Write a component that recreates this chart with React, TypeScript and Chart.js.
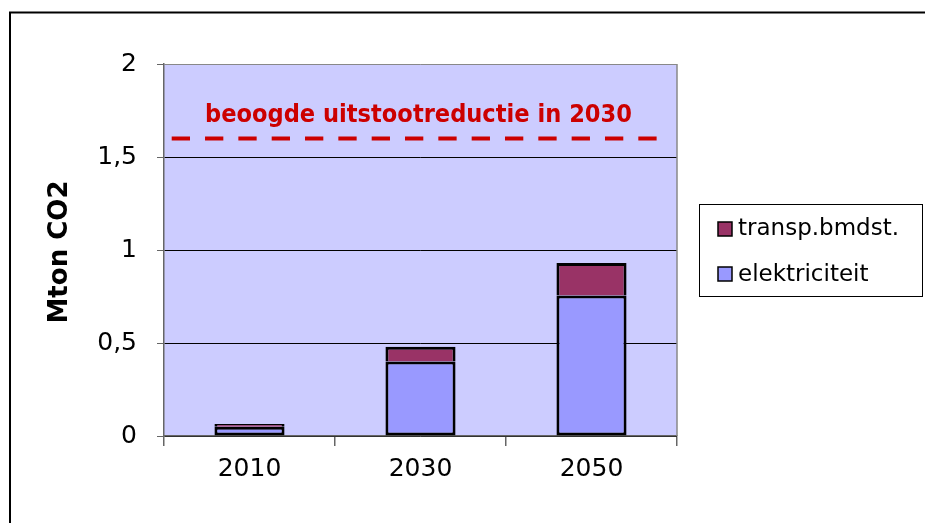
import React, { useEffect, useRef } from "react";
import { Chart, registerables } from "chart.js";

Chart.register(...registerables);

const categories = ["2010", "2030", "2050"];
const elektriciteit = [0.05, 0.4, 0.755];
const transpBrndst = [0.015, 0.08, 0.175];
const targetValue = 1.6;
const targetLabel = "beoogde uitstootreductie in 2030";
const yTitle = "Mton CO2";
const seriesNames = ["elektriciteit", "transp.bmdst."];
const yTickValues = [0, 0.5, 1, 1.5, 2];

const COL_ELEK = "#9999FF";
const COL_TRANSP = "#993366";
const PLOT_BG = "#CCCCFF";
const AXIS_GRAY = "#666666";

const decorPlugin = {
  id: "decor",
  beforeDraw(chart: any) {
    const { ctx, chartArea } = chart;
    ctx.save();
    ctx.fillStyle = PLOT_BG;
    ctx.fillRect(chartArea.left, chartArea.top, chartArea.right - chartArea.left, chartArea.bottom - chartArea.top);
    ctx.restore();
  },
  afterDraw(chart: any) {
    const { ctx, chartArea, scales } = chart;
    const W = chart.width;
    const H = chart.height;
    ctx.save();
    // outer frame (left & top visible)
    ctx.strokeStyle = "#000";
    ctx.lineWidth = 2;
    ctx.beginPath();
    ctx.moveTo(10, H + 2);
    ctx.lineTo(10, 12.5);
    ctx.lineTo(W + 2, 12.5);
    ctx.stroke();

    // plot right border
    ctx.strokeStyle = "#888";
    ctx.lineWidth = 1.5;
    ctx.beginPath();
    ctx.moveTo(chartArea.right, chartArea.top);
    ctx.lineTo(chartArea.right, chartArea.bottom);
    ctx.stroke();

    // target dashed line
    const yT = scales.y.getPixelForValue(targetValue);
    ctx.strokeStyle = "#CC0000";
    ctx.lineWidth = 4;
    ctx.setLineDash([18.3, 15.03]);
    ctx.beginPath();
    ctx.moveTo(chartArea.left + 7.7, yT);
    ctx.lineTo(chartArea.right - 17, yT);
    ctx.stroke();
    ctx.setLineDash([]);

    // target label
    ctx.fillStyle = "#CC0000";
    ctx.font = "bold 24px 'DejaVu Sans'";
    ctx.textBaseline = "alphabetic";
    ctx.textAlign = "center";
    const w = ctx.measureText(targetLabel).width;
    const targetW = 427;
    const sx = targetW / w;
    const cx = (chartArea.left + chartArea.right) / 2 - 2;
    ctx.save();
    ctx.translate(cx, yT - 16);
    ctx.scale(sx, 1);
    ctx.fillText(targetLabel, 0, 0);
    ctx.restore();

    // y title
    ctx.save();
    ctx.fillStyle = "#000";
    ctx.font = "bold 26px 'DejaVu Sans'";
    ctx.textAlign = "center";
    ctx.textBaseline = "middle";
    ctx.translate(60, (chartArea.top + chartArea.bottom) / 2 + 2);
    ctx.rotate(-Math.PI / 2);
    ctx.fillText(yTitle, 0, 0);
    ctx.restore();

    // legend
    ctx.fillStyle = "#fff";
    ctx.fillRect(699.5, 204.5, 223, 92);
    ctx.strokeStyle = "#000";
    ctx.lineWidth = 1;
    ctx.strokeRect(699.5, 204.5, 223, 92);
    const items = [
      { name: seriesNames[1], color: COL_TRANSP, sy: 222, ty: 235 },
      { name: seriesNames[0], color: COL_ELEK, sy: 267, ty: 281 },
    ];
    ctx.font = "23px 'DejaVu Sans'";
    ctx.textAlign = "left";
    ctx.textBaseline = "alphabetic";
    for (const it of items) {
      ctx.fillStyle = it.color;
      ctx.fillRect(718, it.sy, 14, 14);
      ctx.strokeStyle = "#000";
      ctx.lineWidth = 1.5;
      ctx.strokeRect(718, it.sy, 14, 14);
      ctx.fillStyle = "#000";
      ctx.fillText(it.name, 738, it.ty);
    }
    ctx.restore();
  },
};

export default function App() {
  const ref = useRef<HTMLCanvasElement | null>(null);
  useEffect(() => {
    if (!ref.current) return;
    const chart = new Chart(ref.current, {
      type: "bar",
      data: {
        labels: categories,
        datasets: [
          {
            label: seriesNames[0],
            data: elektriciteit,
            backgroundColor: COL_ELEK,
            borderColor: "#000",
            borderWidth: 3,
            borderSkipped: false,
            barPercentage: 0.41,
            categoryPercentage: 1,
          },
          {
            label: seriesNames[1],
            data: transpBrndst,
            backgroundColor: COL_TRANSP,
            borderColor: "#000",
            borderWidth: 3,
            borderSkipped: "start",
            barPercentage: 0.41,
            categoryPercentage: 1,
          },
        ],
      },
      options: {
        animation: false,
        responsive: false,
        devicePixelRatio: 1,
        layout: { padding: { top: 64, right: 248, left: 0, bottom: 0 } },
        plugins: { legend: { display: false }, tooltip: { enabled: false } },
        scales: {
          x: {
            stacked: true,
            afterFit(scale: any) {
              scale.height = 87;
            },
            grid: {
              offset: true,
              drawOnChartArea: false,
              drawTicks: true,
              tickLength: 10,
              color: AXIS_GRAY,
              lineWidth: 1.5,
            },
            border: { color: AXIS_GRAY, width: 1.5 },
            ticks: {
              color: "#000",
              font: { family: "'DejaVu Sans'", size: 25 },
              padding: 8,
            },
          },
          y: {
            stacked: true,
            min: 0,
            max: 2,
            afterFit(scale: any) {
              scale.width = 164;
            },
            afterBuildTicks(scale: any) {
              scale.ticks = yTickValues.map((v) => ({ value: v }));
            },
            grid: {
              color: (c: any) => (c.tick && c.tick.value === 2 ? "#888" : "#000"),
              lineWidth: 1,
              tickColor: AXIS_GRAY,
              tickLength: 7,
              drawTicks: true,
            },
            border: { color: AXIS_GRAY, width: 1.5 },
            ticks: {
              color: "#000",
              font: { family: "'DejaVu Sans'", size: 25 },
              padding: 20,
              callback: (v: any) => String(v).replace(".", ","),
            },
          },
        },
      },
      plugins: [decorPlugin],
    });
    return () => chart.destroy();
  }, []);
  return (
    <div style={{ position: "fixed", left: 0, top: 0, width: 925, height: 523, background: "#fff" }}>
      <canvas ref={ref} width={925} height={523} />
    </div>
  );
}
